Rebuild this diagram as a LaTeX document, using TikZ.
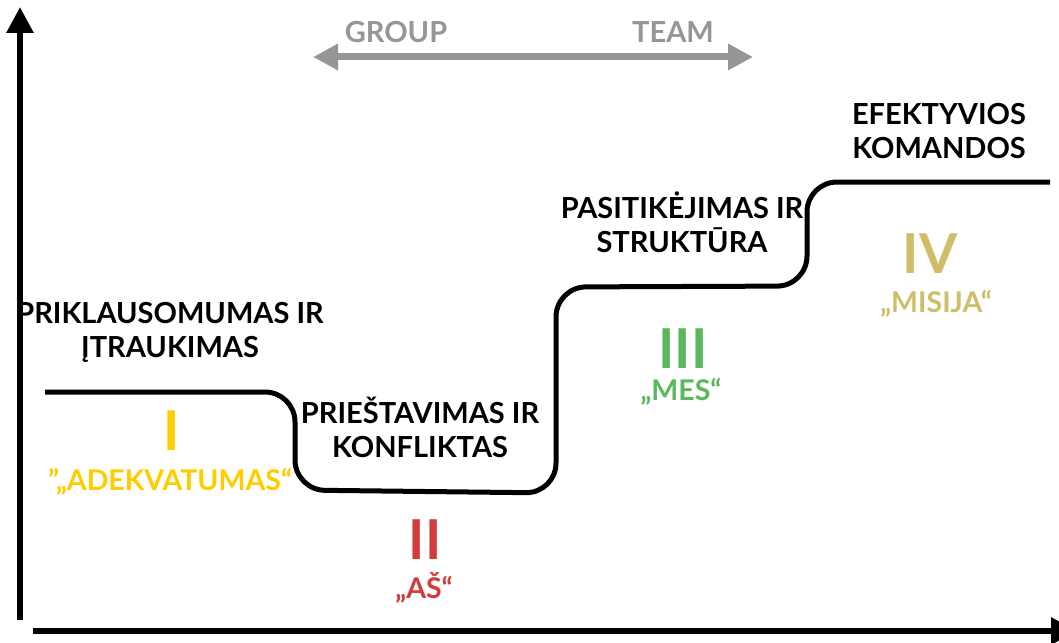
\documentclass[tikz,border=0pt]{standalone}
\usepackage{fontspec}
\setmainfont{Lato}
\usetikzlibrary{arrows.meta}
\definecolor{cyel}{RGB}{255,204,0}
\definecolor{cred}{RGB}{210,60,60}
\definecolor{cgrn}{RGB}{92,184,92}
\definecolor{colv}{RGB}{207,190,105}
\definecolor{cgry}{RGB}{150,150,150}
\begin{document}
\begin{tikzpicture}[x=1pt,y=-1pt,
  lbl/.style={font=\fontsize{29}{33.5}\selectfont\bfseries, align=center, inner sep=0, anchor=base},
  num/.style={font=\fontsize{55}{60}\selectfont\bfseries, inner sep=0, anchor=base},
  quo/.style={font=\fontsize{28.5}{32}\selectfont\bfseries, inner sep=0, anchor=base},
  axisline/.style={line width=6pt, -{Triangle[width=26pt,length=26pt]}},
  grayarrow/.style={line width=7pt, cgry, {Triangle[width=25pt,length=25pt]}-{Triangle[width=25pt,length=25pt]}},
  stepline/.style={line width=5pt, rounded corners=30pt},
]
\useasboundingbox (0,0) rectangle (1059,642);
% axes
\coordinate (yb) at (20,620);
\coordinate (yt) at (20,7);
\coordinate (xl) at (33,631);
\coordinate (xr) at (1077,631);
\draw[axisline] (yb) -- (yt);
\draw[axisline] (xl) -- (xr);
% group-team arrow
\coordinate (gl) at (313,57);
\coordinate (gr) at (753,57);
\draw[grayarrow] (gl) -- (gr);
\node[lbl, text=cgry] (group) at (396,43) {GROUP};
\node[lbl, text=cgry] (team) at (673,43) {TEAM};
% step curve
\coordinate (s0) at (45,392);
\coordinate (s1) at (295,392);
\coordinate (s2) at (295,490);
\coordinate (s3) at (556,493);
\coordinate (s4) at (556,287);
\coordinate (s5) at (807,286);
\coordinate (s6) at (807,182);
\coordinate (s7) at (1050,182);
\draw[stepline] (s0) -- (s1) -- (s2) -- (s3) -- (s4) -- (s5) -- (s6) -- (s7);
% labels (base anchor = last line baseline)
\node[lbl] (l1) at (170,357) {PRIKLAUSOMUMAS IR\\ĮTRAUKIMAS};
\node[lbl] (l2) at (420,457) {PRIEŠTAVIMAS IR\\KONFLIKTAS};
\node[lbl] (l3) at (682,252) {PASITIKĖJIMAS IR\\STRUKTŪRA};
\node[lbl] (l4) at (939,158) {EFEKTYVIOS\\KOMANDOS};
% stages
\node[num, text=cyel] (n1) at (172,450) {I};
\node[quo, text=cyel] (q1) at (170,490) {”„ADEKVATUMAS“};
\node[num, text=cred] (n2) at (425,559) {II};
\node[quo, text=cred] (q2) at (424,598) {„AŠ“};
\node[num, text=cgrn] (n3) at (683,368) {III};
\node[quo, text=cgrn] (q3) at (681,400) {„MES“};
\node[num, text=colv] (n4) at (930,273) {IV};
\node[quo, text=colv] (q4) at (936,312) {„MISIJA“};
\end{tikzpicture}
\end{document}
